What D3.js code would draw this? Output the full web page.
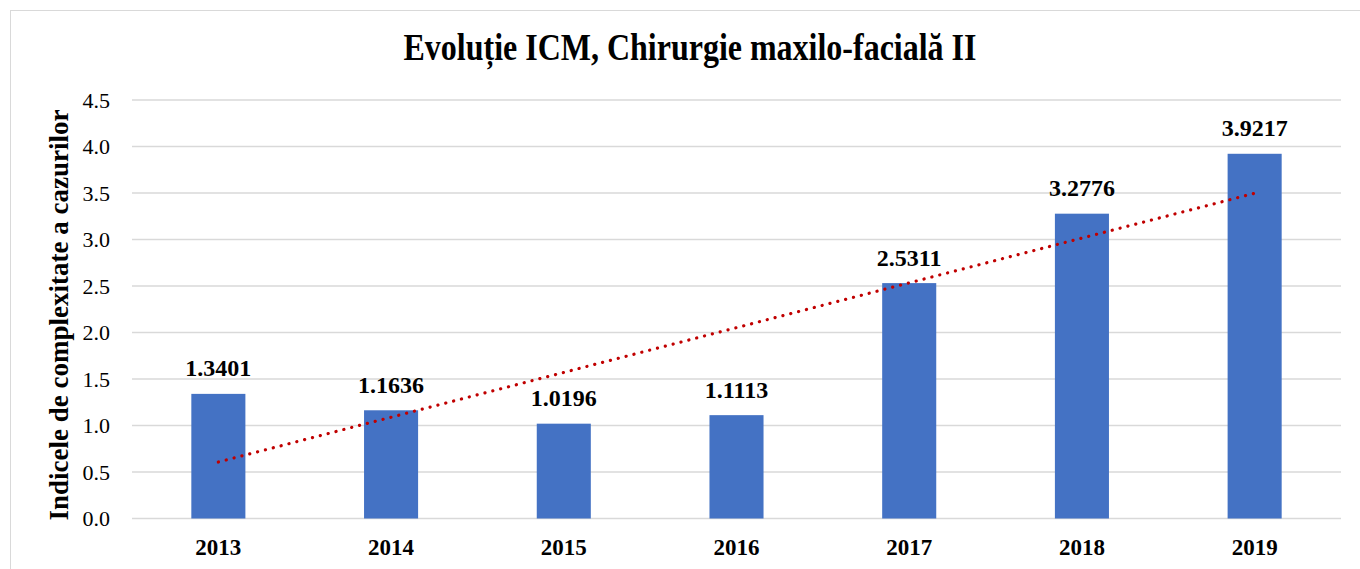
<!DOCTYPE html>
<html>
<head>
<meta charset="utf-8">
<script src="https://cdn.jsdelivr.net/npm/d3@7"></script>
<style>
  html, body { margin: 0; padding: 0; background: #fff; }
  svg { display: block; }
  text { font-family: "Liberation Serif", "Times New Roman", serif; fill: #000; }
</style>
</head>
<body>
<svg id="chart" width="1360" height="569"></svg>
<script>
// Chart data
const years = ["2013", "2014", "2015", "2016", "2017", "2018", "2019"];
const icm = [1.3401, 1.1636, 1.0196, 1.1113, 2.5311, 3.2776, 3.9217];
const yTicks = [0, 0.5, 1, 1.5, 2, 2.5, 3, 3.5, 4, 4.5];
const titleText = "Evoluție ICM, Chirurgie maxilo-facială II";
const yTitleText = "Indicele de complexitate a cazurilor";

const svg = d3.select("#chart");

// Plot area
const plot = { left: 132, right: 1341, top: 100, bottom: 518.5 };

// Chart frame
svg.append("rect")
  .attr("x", 10.5).attr("y", 10.5)
  .attr("width", 1400).attr("height", 600)
  .attr("fill", "#fff").attr("stroke", "#d9d9d9").attr("stroke-width", 1);

const x = d3.scaleBand().domain(years).range([plot.left, plot.right]).padding(0);
const y = d3.scaleLinear().domain([0, 4.5]).range([plot.bottom, plot.top]);
const barW = x.bandwidth() * 0.313;

// Gridlines
svg.append("g").selectAll("line").data(yTicks).join("line")
  .attr("x1", plot.left).attr("x2", plot.right)
  .attr("y1", d => y(d)).attr("y2", d => y(d))
  .attr("stroke", "#d9d9d9").attr("stroke-width", 1.5);

// Y tick labels
svg.append("g").selectAll("text").data(yTicks).join("text")
  .attr("x", 110).attr("y", d => y(d))
  .attr("dy", "0.35em")
  .attr("text-anchor", "end")
  .attr("font-size", 22)
  .text(d => d3.format(".1f")(d));

// Bars
svg.append("g").selectAll("rect").data(years).join("rect")
  .attr("x", (d) => x(d) + x.bandwidth() / 2 - barW / 2)
  .attr("width", barW)
  .attr("y", (d, i) => y(icm[i]))
  .attr("height", (d, i) => y(0) - y(icm[i]))
  .attr("fill", "#4472C4");

// Value labels
svg.append("g").selectAll("text").data(years).join("text")
  .attr("x", d => x(d) + x.bandwidth() / 2)
  .attr("y", (d, i) => y(icm[i]) - 17.5)
  .attr("text-anchor", "middle")
  .attr("font-size", 24)
  .attr("font-weight", "bold")
  .text((d, i) => d3.format(".4f")(icm[i]));

// Linear trendline (least squares over the category index)
const n = icm.length;
const idx = d3.range(n);
const mx = d3.mean(idx), my = d3.mean(icm);
const slope = d3.sum(idx, i => (i - mx) * (icm[i] - my)) / d3.sum(idx, i => (i - mx) ** 2);
const intercept = my - slope * mx;
const trend = idx.map(i => [x(years[i]) + x.bandwidth() / 2, y(intercept + slope * i)]);
svg.append("path")
  .attr("d", d3.line()([trend[0], trend[n - 1]]))
  .attr("fill", "none")
  .attr("stroke", "#C00000")
  .attr("stroke-width", 3.2)
  .attr("stroke-linecap", "round")
  .attr("stroke-dasharray", "0.1 8");

// X category labels
svg.append("g").selectAll("text").data(years).join("text")
  .attr("x", d => x(d) + x.bandwidth() / 2)
  .attr("y", 555)
  .attr("text-anchor", "middle")
  .attr("font-size", 23)
  .attr("font-weight", "bold")
  .text(d => d);

// Title
svg.append("text")
  .attr("transform", "translate(690, 59.5) scale(1, 1.2)")
  .attr("text-anchor", "middle")
  .attr("font-size", 32)
  .attr("font-weight", "bold")
  .text(titleText);

// Y axis title
svg.append("text")
  .attr("transform", "translate(68, 315) rotate(-90)")
  .attr("text-anchor", "middle")
  .attr("font-size", 27)
  .attr("font-weight", "bold")
  .text(yTitleText);
</script>
</body>
</html>
